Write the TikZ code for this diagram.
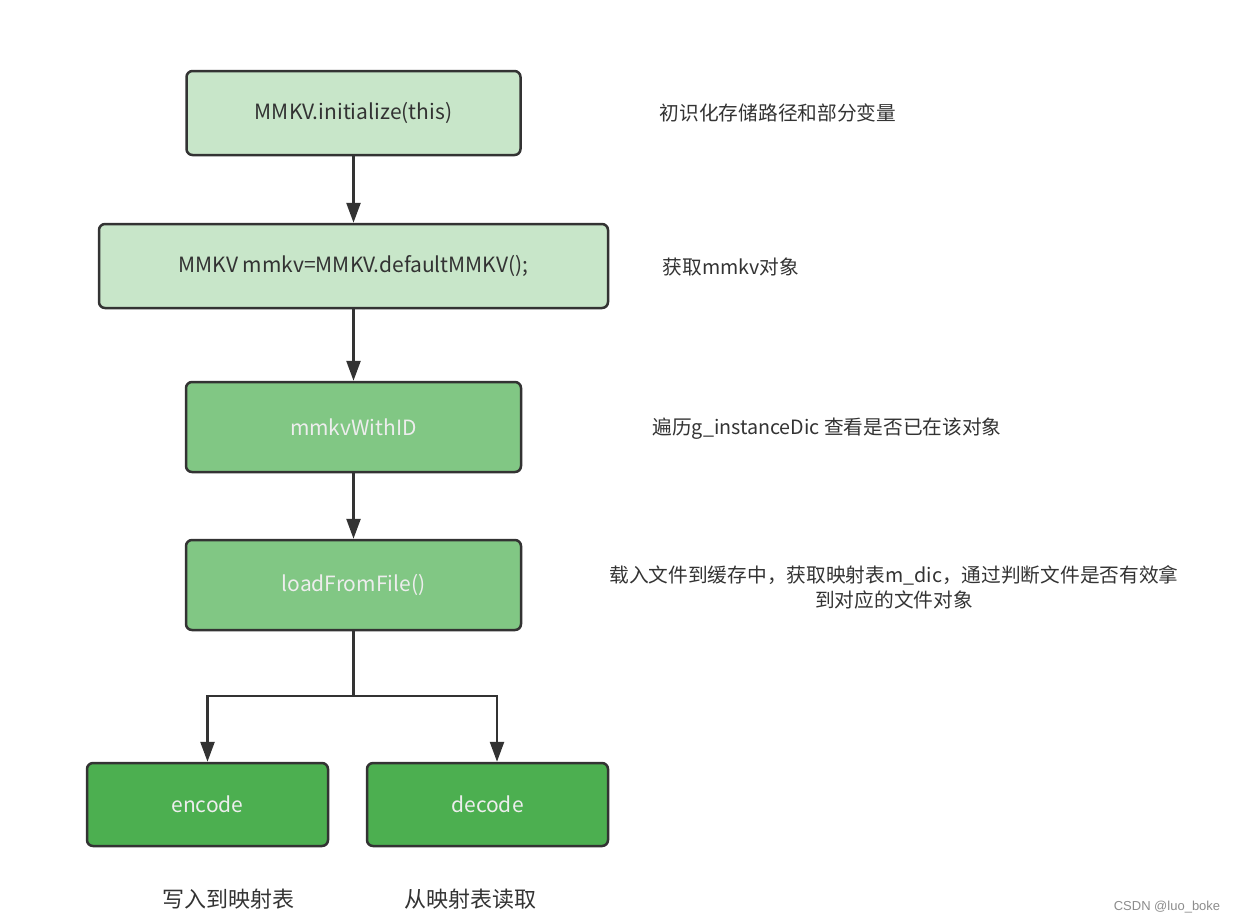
\documentclass[tikz,border=0pt]{standalone}
\usepackage{fontspec}
\setmainfont{Noto Sans CJK SC}
\newfontfamily\markfont{Liberation Sans}
\usetikzlibrary{arrows.meta}
\definecolor{pale}{HTML}{C8E6C9}
\definecolor{mid}{HTML}{81C784}
\definecolor{deep}{HTML}{4CAF50}
\definecolor{ink}{HTML}{333333}

\begin{document}
\begin{tikzpicture}[x=0.5pt,y=-0.5pt,
  box/.style={draw=ink,line width=1.25pt,rounded corners=3pt,inner sep=0pt,font=\fontsize{10.5}{12}\selectfont},
  note/.style={text=ink,align=center,font=\fontsize{9.85}{12.5}\selectfont},
  flow/.style={draw=ink,line width=1.25pt,-{Triangle[length=10pt,width=7pt]}}]
\useasboundingbox (0,0) rectangle (1235,923);
% main chain
\node[box,fill=pale,text=ink,minimum width=167pt,minimum height=42pt] (init) at (353.5,113) {MMKV.initialize(this)};
\node[box,fill=pale,text=ink,minimum width=254.5pt,minimum height=42pt] (dflt) at (353.5,266) {MMKV mmkv=MMKV.defaultMMKV();};
\node[box,fill=mid,text=white!93!black,minimum width=167.5pt,minimum height=45pt] (withid) at (353.5,427) {mmkvWithID};
\node[box,fill=mid,text=white!93!black,minimum width=167.5pt,minimum height=45pt] (load) at (353.5,585) {loadFromFile()};
\node[box,fill=deep,text=white!93!black,minimum width=120.5pt,minimum height=41.5pt] (enc) at (207.5,804.5) {encode};
\node[box,fill=deep,text=white!93!black,minimum width=120.5pt,minimum height=41.5pt] (dec) at (487.5,804.5) {decode};
\coordinate (split) at (353.5,696);
\draw[flow] (init) -- (dflt);
\draw[flow] (dflt) -- (withid);
\draw[flow] (withid) -- (load);
\draw[ink,line width=1.25pt] (load) -- (split);
\draw[flow] (split) -| (enc.north);
\draw[flow] (split) -| ([xshift=4.75pt]dec.north);
% notes
\node[note] (n1) at (778,113) {初识化存储路径和部分变量};
\node[note] (n2) at (731,267) {获取mmkv对象};
\node[note] (n3) at (827,429) {遍历g\_instanceDic 查看是否已在该对象};
\node[note] (n4) at (894,587) {载入文件到缓存中，获取映射表m\_dic，通过判断文件是否有效拿\\到对应的文件对象};
\node[note,font=\fontsize{11}{13}\selectfont] (n5) at (228,899) {写入到映射表};
\node[note,font=\fontsize{11}{13}\selectfont] (n6) at (470,899) {从映射表读取};
\node[text=black!45,font=\markfont\fontsize{6.5}{8}\selectfont] (mark) at (1167,907) {CSDN @luo\_boke};
\end{tikzpicture}
\end{document}
